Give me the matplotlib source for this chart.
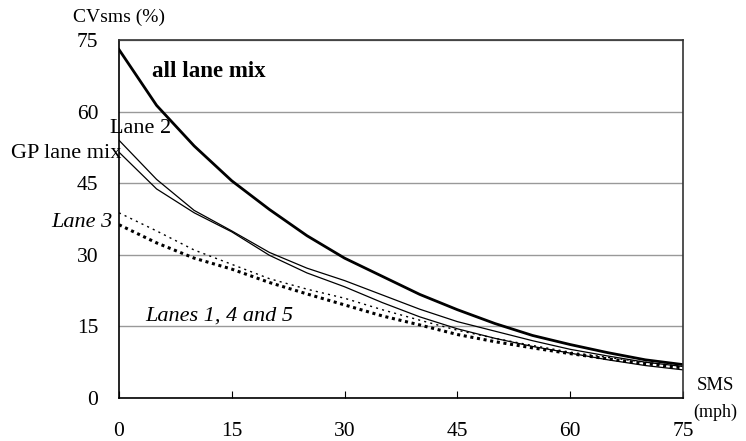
import matplotlib
matplotlib.use('Agg')
import matplotlib.pyplot as plt
import numpy as np

# CVsms (%) against SMS (mph)
sms = [0, 5, 10, 15, 20, 25, 30, 35, 40, 45, 50, 55, 60, 65, 70, 75]
all_lane_mix = [73.0, 61.3, 52.8, 45.5, 39.5, 34.0, 29.3, 25.5, 21.7, 18.5, 15.6, 13.1, 11.2, 9.5, 8.0, 7.0]
lane_2 = [54.0, 45.8, 39.3, 35.0, 30.5, 27.2, 24.6, 21.6, 18.6, 16.0, 14.0, 12.0, 10.2, 8.8, 7.5, 6.6]
gp_lane_mix = [51.5, 43.8, 38.8, 34.8, 29.9, 26.2, 23.3, 20.0, 17.0, 14.5, 12.5, 10.8, 9.4, 8.0, 6.8, 5.9]
lane_3 = [38.8, 35.0, 31.0, 28.0, 25.0, 22.8, 20.9, 18.5, 16.3, 14.2, 12.5, 11.0, 9.6, 8.5, 7.5, 6.6]
lanes_145 = [36.3, 32.5, 29.3, 27.0, 24.2, 21.8, 19.5, 17.2, 15.3, 13.3, 11.8, 10.5, 9.3, 8.2, 7.2, 6.3]

xticks = [0, 15, 30, 45, 60, 75]
yticks = [0, 15, 30, 45, 60, 75]

plt.rcParams['font.family'] = ['Liberation Serif', 'DejaVu Serif']

fig = plt.figure(figsize=(7.46, 4.41), dpi=100)
ax = fig.add_axes([0.1595, 0.0975, 0.756, 0.8118])

ax.plot(sms, all_lane_mix, color='black', lw=2.0)
ax.plot(sms, lane_2, color='black', lw=0.9)
ax.plot(sms, gp_lane_mix, color='black', lw=0.9)
ax.plot(sms, lane_3, color='black', lw=1.0, linestyle=(0, (1.5, 3)))
ax.plot(sms, lanes_145, color='black', lw=2.2, linestyle=(0, (1, 1.2)))

ax.set_xlim(0, 75)
ax.set_ylim(0, 75)
ax.set_xticks(xticks)
ax.set_yticks(yticks)
ax.tick_params(axis='x', direction='in', length=5, pad=17, labelsize=15.5)
ax.tick_params(axis='y', direction='in', length=0, pad=15, labelsize=15.5)
ax.grid(axis='y', color='#999999', lw=1.0)
ax.set_axisbelow(True)
for s in ax.spines.values():
    s.set_color('black')
    s.set_linewidth(1.2)
ax.spines['top'].set_color('#333333')
ax.spines['right'].set_color('#333333')

# curve labels
ax.text(4.4, 68.5, 'all lane mix', fontsize=16.5, fontweight='bold', va='center')
ax.text(-1.2, 56.5, 'Lane 2', fontsize=16, va='center', clip_on=False)
ax.text(-14.3, 51.3, 'GP lane mix', fontsize=16, va='center', clip_on=False)
ax.text(-9.0, 36.8, 'Lane 3', fontsize=16, style='italic', va='center', clip_on=False)
ax.text(3.5, 17.2, 'Lanes 1, 4 and 5', fontsize=16, style='italic', va='center')

fig.text(73 / 746, 1 - 17 / 441, 'CVsms (%)', fontsize=14, va='center')
fig.text(697 / 746, 1 - 385 / 441, 'SMS', fontsize=13.5, va='center')
fig.text(693 / 746, 1 - 412 / 441, '(mph)', fontsize=13, va='center')

fig.savefig('out.png', dpi=100)
